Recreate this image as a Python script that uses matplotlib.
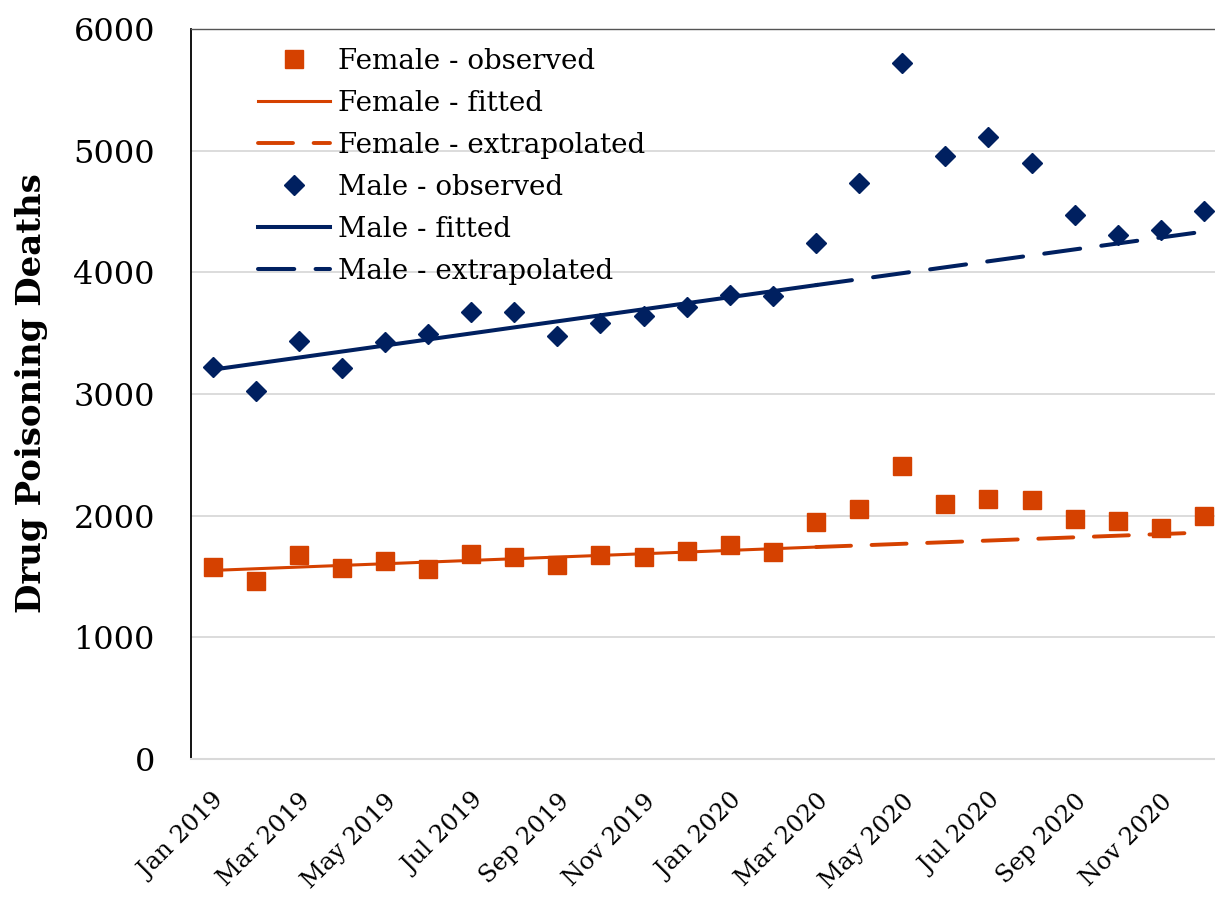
import matplotlib
matplotlib.use('Agg')
import matplotlib.pyplot as plt

# monthly drug poisoning deaths, Jan 2019 .. Dec 2020
months = ['Jan 2019', 'Feb 2019', 'Mar 2019', 'Apr 2019', 'May 2019', 'Jun 2019',
          'Jul 2019', 'Aug 2019', 'Sep 2019', 'Oct 2019', 'Nov 2019', 'Dec 2019',
          'Jan 2020', 'Feb 2020', 'Mar 2020', 'Apr 2020', 'May 2020', 'Jun 2020',
          'Jul 2020', 'Aug 2020', 'Sep 2020', 'Oct 2020', 'Nov 2020', 'Dec 2020']
female_obs = [1580, 1465, 1675, 1570, 1625, 1560, 1685, 1660, 1595, 1675, 1660, 1710,
              1760, 1700, 1950, 2055, 2410, 2095, 2135, 2130, 1975, 1955, 1900, 2000]
male_obs = [3225, 3025, 3435, 3210, 3430, 3490, 3670, 3675, 3475, 3585, 3645, 3715,
            3810, 3805, 4240, 4735, 5720, 4955, 5110, 4900, 4475, 4305, 4350, 4505]
# fitted / extrapolated trend lines (straight, so only end points)
fit_idx = [0, 14]
extrap_idx = [14, 23]
female_fit = [1550, 1742]
female_extrap = [1742, 1862]
male_fit = [3200, 3895]
male_extrap = [3895, 4335]
yticks = [0, 1000, 2000, 3000, 4000, 5000, 6000]

ORANGE = '#D54100'
NAVY = '#002060'
plt.rcParams['font.family'] = 'DejaVu Serif'

fig = plt.figure(figsize=(12.15, 8.98), dpi=100)
ax = fig.add_axes([191 / 1215, 139 / 898, 1034.5 / 1215, 730 / 898])
x = list(range(len(months)))

ax.plot(x, female_obs, ls='none', marker='s', ms=13.5, color=ORANGE, zorder=4,
        label='Female - observed')
ax.plot(fit_idx, female_fit, color=ORANGE, lw=2.2, zorder=3, label='Female - fitted')
ax.plot(extrap_idx, female_extrap, color=ORANGE, lw=2.8, ls=(0, (9, 5.3)),
        dash_capstyle='round', zorder=3, label='Female - extrapolated')
ax.plot(x, male_obs, ls='none', marker='D', ms=10, color=NAVY, zorder=4,
        label='Male - observed')
ax.plot(fit_idx, male_fit, color=NAVY, lw=2.9, zorder=5, label='Male - fitted')
ax.plot(extrap_idx, male_extrap, color=NAVY, lw=2.9, ls=(0, (9, 5.3)),
        dash_capstyle='round', zorder=5, label='Male - extrapolated')

ax.set_xlim(-0.5, 23.5)
ax.set_ylim(0, 6000)
ax.set_yticks(yticks)
ax.set_yticklabels([str(v) for v in yticks], fontsize=23)
ax.set_xticks(x[::2])
ax.set_xticklabels(months[::2], fontsize=17.5, rotation=45, ha='right', va='top',
                   rotation_mode='anchor')
ax.tick_params(axis='y', length=0, pad=26)
ax.tick_params(axis='x', length=0, pad=22)
ax.grid(axis='y', color='#D9D9D9', lw=1.3)
ax.set_axisbelow(True)

ax.spines['left'].set_color('black')
ax.spines['left'].set_linewidth(1.3)
ax.spines['bottom'].set_color('#D9D9D9')
ax.spines['bottom'].set_linewidth(1.5)
ax.spines['top'].set_color('#555555')
ax.spines['top'].set_linewidth(1.0)
ax.spines['right'].set_visible(False)

fig.text(32 / 1215, 1 - 393 / 898, 'Drug Poisoning Deaths', rotation=90,
         fontsize=24.5, fontweight='bold', ha='center', va='center')

ax.legend(loc='upper left', bbox_to_anchor=(258 / 1215, 1 - 48 / 898),
          bbox_transform=fig.transFigure, frameon=False, fontsize=20,
          handlelength=2.6, handletextpad=0.29, labelspacing=0.54,
          borderaxespad=0, borderpad=0)

fig.savefig('out.png', dpi=100)
